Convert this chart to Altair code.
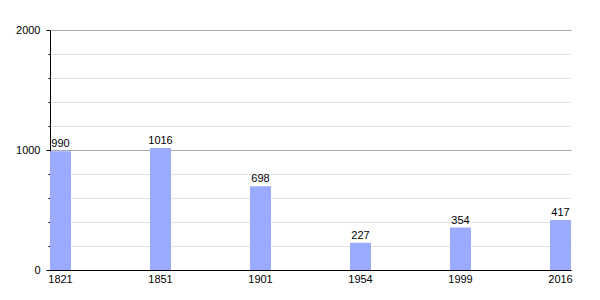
import altair as alt
import pandas as pd

years = ["1821", "1851", "1901", "1954", "1999", "2016"]
population = [990, 1016, 698, 227, 354, 417]
y_ticks = [0, 200, 400, 600, 800, 1000, 1200, 1400, 1600, 1800, 2000]

df = pd.DataFrame({"year": years, "pop": population})

FONT = "Liberation Sans"

x = alt.X(
    "year:N",
    sort=years,
    scale=alt.Scale(paddingInner=0.79, paddingOuter=0, align=0),
    axis=alt.Axis(
        title=None,
        labelAngle=0,
        ticks=False,
        domainColor="#000000",
        labelColor="#000000",
        labelFont=FONT,
        labelFontSize=11,
        labelPadding=3,
    ),
)

y = alt.Y(
    "pop:Q",
    scale=alt.Scale(domain=[0, 2000], nice=False),
    axis=alt.Axis(
        title=None,
        values=y_ticks,
        tickCount=len(y_ticks),
        labelExpr="datum.value % 1000 === 0 ? datum.value : ''",
        labelOverlap=False,
        grid=True,
        gridColor={"condition": {"test": "datum.value % 1000 === 0", "value": "#aaaaaa"}, "value": "#e2e2e2"},
        tickSize={"condition": {"test": "datum.value % 1000 === 0", "value": 4}, "value": 2},
        tickColor="#000000",
        domainColor="#000000",
        labelColor="#000000",
        labelFont=FONT,
        labelFontSize=11,
        labelPadding=6,
    ),
)

bars = alt.Chart(df).mark_bar(color="#99aaff").encode(x=x, y=y)
labels = alt.Chart(df).mark_text(
    baseline="bottom", dy=-2, font=FONT, fontSize=11, color="#000000"
).encode(x=alt.X("year:N", sort=years, bandPosition=0.5), y="pop:Q", text="pop:Q")

chart = (
    alt.layer(bars, labels)
    .properties(
        width=521,
        height=240,
        autosize=alt.AutoSizeParams(type="none"),
        padding={"left": 50, "top": 30, "right": 29, "bottom": 30},
        background="white",
    )
    .configure_view(stroke=None)
)

chart.save("out.html", embed_options={"renderer": "svg", "actions": False})
